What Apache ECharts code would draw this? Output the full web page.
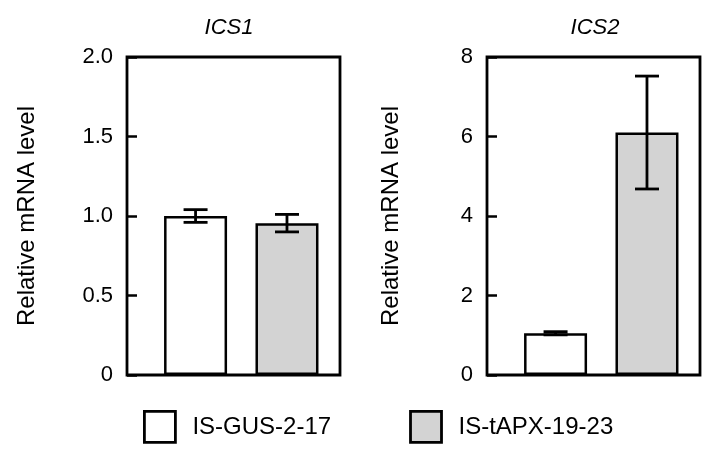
<!DOCTYPE html>
<html>
<head>
<meta charset="utf-8">
<script src="https://cdn.jsdelivr.net/npm/echarts@6/dist/echarts.min.js"></script>
<style>html,body{margin:0;padding:0;background:#fff;}#c{width:720px;height:461px;}</style>
</head>
<body>
<div id="c"></div>
<script>
const genotypes = ['IS-GUS-2-17', 'IS-tAPX-19-23'];
const genes = ['ICS1', 'ICS2'];
const positions = [1, 2];
const ics1Means = [1.0, 0.955];
const ics1Errors = [0.04, 0.055];
const ics2Means = [1.05, 6.1];
const ics2Errors = [0.04, 1.42];
const yMax = [2, 8];
const yInterval = [0.5, 2];
const fills = ['#ffffff', '#d3d3d3'];
const axisTitle = 'Relative mRNA level';

const means = [ics1Means, ics2Means];
const errors = [ics1Errors, ics2Errors];
const FONT = 'Liberation Sans, Arial, Helvetica, sans-serif';

const chart = echarts.init(document.getElementById('c'), null, {renderer: 'canvas'});

const grids = [
  {left: 127, right: 380, top: 57, bottom: 86},
  {left: 487, right: 20, top: 57, bottom: 86}
];

const xAxes = grids.map((g, i) => ({
  type: 'value', gridIndex: i, min: 0.25, max: 2.58,
  axisLine: {show: false}, axisTick: {show: false}, axisLabel: {show: false}, splitLine: {show: false}
}));

const yAxes = grids.map((g, i) => ({
  type: 'value', gridIndex: i, min: 0, max: yMax[i], interval: yInterval[i],
  name: axisTitle, nameLocation: 'middle', nameGap: i === 0 ? 88 : 84,
  nameTextStyle: {fontFamily: FONT, fontSize: 24, color: '#000'},
  axisLine: {show: false},
  axisTick: {show: true, inside: true, length: 10, lineStyle: {color: '#000', width: 2.5}},
  axisLabel: {
    fontFamily: FONT, fontSize: 22, color: '#000', margin: 14,
    formatter: v => (i === 0 ? (v === 0 ? '0' : v.toFixed(1)) : String(v))
  },
  splitLine: {show: false}
}));

const series = [];
for (let g = 0; g < 2; g++) {
  for (let k = 0; k < 2; k++) {
    series.push({
      type: 'bar', name: genotypes[k], xAxisIndex: g, yAxisIndex: g,
      barWidth: 63, barGap: '-100%',
      data: [[positions[k], means[g][k]]],
      itemStyle: {color: fills[k], borderColor: '#000', borderWidth: 2.5},
      z: 2
    });
  }
  series.push({
    type: 'custom', xAxisIndex: g, yAxisIndex: g, z: 5,
    encode: {x: 0, y: [1, 2]},
    data: positions.map((p, k) => [p, means[g][k] - errors[g][k], means[g][k] + errors[g][k]]),
    renderItem: function (params, api) {
      const x = api.value(0);
      const lo = api.coord([x, api.value(1)]);
      const hi = api.coord([x, api.value(2)]);
      const half = 12;
      const st = {stroke: '#000', lineWidth: 2.8};
      return {
        type: 'group',
        children: [
          {type: 'line', shape: {x1: lo[0], y1: lo[1], x2: hi[0], y2: hi[1]}, style: st},
          {type: 'line', shape: {x1: lo[0] - half, y1: lo[1], x2: lo[0] + half, y2: lo[1]}, style: st},
          {type: 'line', shape: {x1: hi[0] - half, y1: hi[1], x2: hi[0] + half, y2: hi[1]}, style: st}
        ]
      };
    }
  });
}

const option = {
  animation: false,
  backgroundColor: '#fff',
  grid: grids.map(g => Object.assign({show: true, borderColor: '#000', borderWidth: 2.8, backgroundColor: 'transparent'}, g)),
  xAxis: xAxes,
  yAxis: yAxes,
  legend: {
    left: 143, top: 410, padding: 0, itemWidth: 31, itemHeight: 31, itemGap: 78, icon: 'rect',
    data: genotypes.map((n, k) => ({name: n, itemStyle: {color: fills[k], borderColor: '#000', borderWidth: 2.8}})),
    textStyle: {fontFamily: FONT, fontSize: 24, color: '#000', padding: [0, 0, 0, 12]},
    selectedMode: false
  },
  graphic: genes.map((t, i) => ({
    type: 'text', x: i === 0 ? 229 : 595, y: 28,
    style: {text: t, fontFamily: FONT, fontSize: 22, fontStyle: 'italic', fill: '#000', align: 'center', verticalAlign: 'middle'}
  })),
  series: series
};
chart.setOption(option);
</script>
</body>
</html>
